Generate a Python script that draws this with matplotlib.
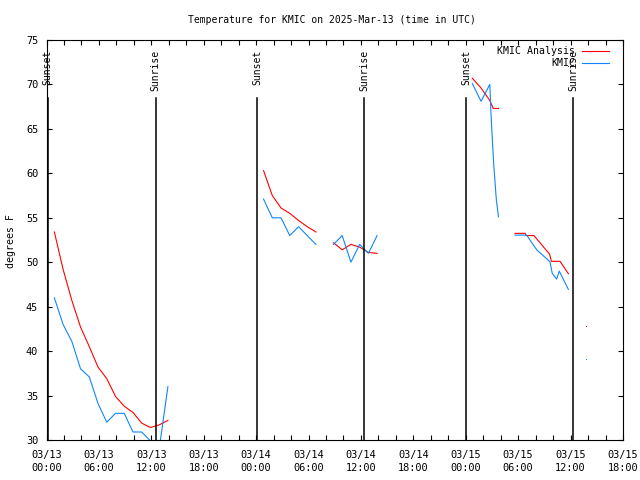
import pandas as pd
import matplotlib
matplotlib.use('Agg')
import matplotlib.pyplot as plt
import matplotlib.dates as mdates

START = pd.Timestamp('2025-03-13 00:00')
END = pd.Timestamp('2025-03-15 18:00')

# hours after START; one list per unbroken run of data
hrs1 = [0.9, 1.9, 2.9, 3.9, 4.9, 5.9, 6.9, 7.9, 8.9, 9.9, 10.9, 11.9, 12.9, 13.9]
ana1 = [53.4, 49.2, 45.7, 42.7, 40.5, 38.2, 36.9, 34.9, 33.8, 33.1, 31.9, 31.4, 31.7, 32.2]
obs1 = [46.0, 43.0, 41.1, 38.0, 37.1, 34.1, 32.0, 33.0, 33.0, 30.9, 30.9, 29.9, 29.0, 36.0]

hrs2 = [24.85, 25.85, 26.85, 27.85, 28.85, 29.85, 30.85]
ana2 = [60.3, 57.5, 56.1, 55.5, 54.7, 54.0, 53.4]
obs2 = [57.1, 55.0, 55.0, 53.0, 54.0, 53.0, 52.0]

hrs3 = [32.85, 33.85, 34.85, 35.85, 36.85, 37.85]
ana3 = [52.2, 51.4, 52.0, 51.7, 51.1, 51.0]
obs3 = [52.0, 53.0, 50.0, 52.0, 51.0, 53.0]

ana_hrs4 = [48.75, 49.75, 50.75, 51.15, 51.75]
ana4 = [70.7, 69.6, 68.2, 67.3, 67.3]
obs_hrs4 = [48.75, 49.75, 50.75, 50.9, 51.2, 51.5, 51.75]
obs4 = [70.1, 68.1, 70.0, 66.4, 61.0, 57.0, 55.1]

ana_hrs5 = [53.63, 54.8, 54.9, 55.8, 57.6, 57.8, 58.8, 59.75]
ana5 = [53.25, 53.25, 53.0, 53.0, 50.9, 50.1, 50.1, 48.7]
obs_hrs5 = [53.63, 54.97, 56.12, 57.64, 57.9, 58.4, 58.7, 59.74]
obs5 = [53.05, 53.05, 51.4, 50.05, 48.75, 48.1, 49.0, 46.95]

lone_hr = 61.73
lone_ana = 42.7
lone_obs = 39.0

sunset_hrs = [0.15, 24.1, 48.05]
sunrise_hrs = [12.5, 36.35, 60.3]

RED = '#ff0000'
BLUE = '#0f86ff'
FONT = 'DejaVu Sans Mono'


def t(h):
    return START + pd.to_timedelta(h, unit='h')


plt.rcParams['font.family'] = FONT
fig = plt.figure(figsize=(6.4, 4.8), dpi=100)
ax = fig.add_axes([46.5/640, 40/480, 576.5/640, 400/480])

ana_runs = [(hrs1, ana1), (hrs2, ana2), (hrs3, ana3), (ana_hrs4, ana4), (ana_hrs5, ana5)]
obs_runs = [(hrs1, obs1), (hrs2, obs2), (hrs3, obs3), (obs_hrs4, obs4), (obs_hrs5, obs5)]
for i, (h, v) in enumerate(ana_runs):
    ax.plot(t(pd.Series(h)), v, color=RED, lw=0.8,
            label='KMIC Analysis' if i == 0 else None)
for i, (h, v) in enumerate(obs_runs):
    ax.plot(t(pd.Series(h)), v, color=BLUE, lw=0.8,
            label='KMIC' if i == 0 else None)
ax.plot([t(lone_hr)], [lone_ana], ',', color=RED)
ax.plot([t(lone_hr)], [lone_obs], ',', color=BLUE)

# sunset / sunrise markers
for names, hrs in (('Sunset', sunset_hrs), ('Sunrise', sunrise_hrs)):
    for h in hrs:
        ax.axvline(t(h), ymin=0, ymax=0.855, color='black', lw=1.1)
        ax.text(t(h), 0.975, names, transform=ax.get_xaxis_transform(),
                rotation=90, ha='center', va='top', fontsize=7)

ax.set_xlim(START, END)
ax.set_ylim(30, 75)
ax.set_yticks(range(30, 80, 5))
ax.xaxis.set_major_locator(mdates.HourLocator(byhour=[0, 6, 12, 18]))
ax.xaxis.set_minor_locator(mdates.HourLocator(interval=2))
ax.xaxis.set_major_formatter(mdates.DateFormatter('%m/%d\n%H:%M'))
ax.tick_params(which='both', direction='in', top=True, right=True,
               length=3.5, width=0.8, labelsize=7.4)
ax.tick_params(axis='x', pad=7)
ax.tick_params(axis='y', pad=6)
for lab in ax.get_xticklabels():
    lab.set_linespacing(1.4)
for s in ax.spines.values():
    s.set_linewidth(0.8)

leg = ax.legend(loc='upper right', bbox_to_anchor=(0.9757, 0.985),
                frameon=False, markerfirst=False, fontsize=7.1,
                handlelength=2.7, handletextpad=0.7, labelspacing=0.2,
                borderpad=0, borderaxespad=0)
for txt in leg.get_texts():
    txt.set_ha('right')

fig.text(332/640, 1 - 20/480, 'Temperature for KMIC on 2025-Mar-13 (time in UTC)',
         ha='center', va='center', fontsize=7)
fig.text(10.8/640, 1 - 241/480, 'degrees F', rotation=90,
         ha='center', va='center', fontsize=7.1)

fig.savefig('out.png', dpi=100)
